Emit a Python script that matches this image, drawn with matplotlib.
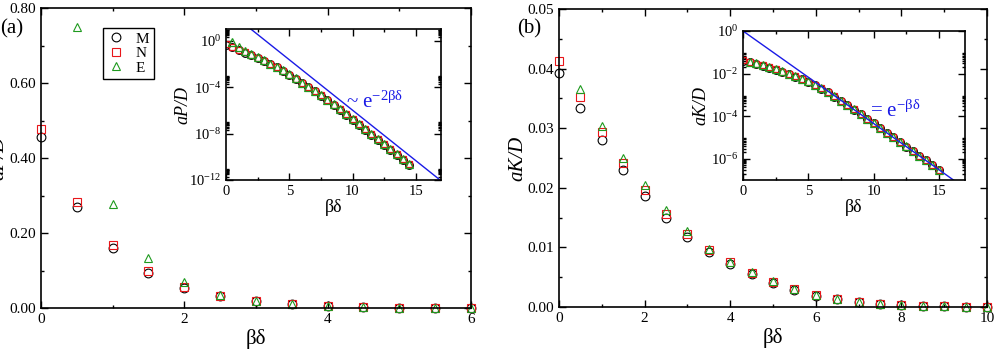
import numpy as np
import matplotlib
matplotlib.use('Agg')
import matplotlib.pyplot as plt
from matplotlib.ticker import MultipleLocator, FixedLocator, FormatStrFormatter, LogFormatterSciNotation

nan = np.nan

# beta*delta grid for P (panel a) and K (panel b)
x_P = np.arange(0, 15, 0.5)      # 0 .. 14.5
x_K = np.arange(0, 15.5, 0.5)    # 0 .. 15

# aP/D
P_M = [0.455, 0.270, 0.160, 0.093, 0.054, 0.031, 0.0175, 0.0095, 5.0e-3, 2.4e-3,
       1.1e-3, 5.0e-4, 2.2e-4, 9.5e-5, 4.2e-5, 1.8e-5, 7.5e-6, 3.0e-6, 1.15e-6, 4.3e-7,
       1.6e-7, 6.0e-8, 2.2e-8, 8.2e-9, 3.0e-9, 1.1e-9, 4.1e-10, 1.5e-10, 5.6e-11, 2.1e-11]
P_N = [0.478, 0.284, 0.168, 0.099, 0.057, 0.033, 0.0185, 0.0101, 5.3e-3, 2.6e-3,
       1.2e-3, 5.4e-4, 2.35e-4, 1.0e-4, 4.4e-5, 1.9e-5, 7.9e-6, 3.15e-6, 1.2e-6, 4.5e-7,
       1.7e-7, 6.3e-8, 2.3e-8, 8.6e-9, 3.15e-9, 1.15e-9, 4.3e-10, 1.6e-10, 5.9e-11, 2.2e-11]
P_E = [nan, 0.75, 0.277, 0.133, 0.069, 0.036, 0.0195, 0.0105, 5.5e-3, 2.7e-3,
       1.25e-3, 5.6e-4, 2.45e-4, 1.05e-4, 4.6e-5, 2.0e-5, 8.2e-6, 3.3e-6, 1.25e-6, 4.7e-7,
       1.75e-7, 6.5e-8, 2.4e-8, 8.9e-9, 3.25e-9, 1.2e-9, 4.4e-10, 1.65e-10, 6.1e-11, 2.3e-11]

# aK/D
K_M = [0.0392, 0.0334, 0.0280, 0.0230, 0.0187, 0.0150, 0.0117, 0.0092, 0.0072, 0.0055,
       0.0041, 0.0029, 0.0019, 0.0013, 8.2e-4, 5.2e-4, 3.3e-4, 2.05e-4, 1.24e-4, 7.5e-5,
       4.55e-5, 2.75e-5, 1.67e-5, 1.01e-5, 6.1e-6, 3.7e-6, 2.25e-6, 1.37e-6, 8.3e-7, 5.0e-7, 3.05e-7]
K_N = [0.0413, 0.0352, 0.0294, 0.0242, 0.0196, 0.0156, 0.0122, 0.0095, 0.0075, 0.0057,
       0.0042, 0.0030, 0.0020, 0.00132, 8.4e-4, 5.3e-4, 3.35e-4, 2.08e-4, 1.26e-4, 7.6e-5,
       4.6e-5, 2.78e-5, 1.69e-5, 1.02e-5, 6.2e-6, 3.75e-6, 2.28e-6, 1.38e-6, 8.4e-7, 5.1e-7, 3.1e-7]
K_E = [nan, 0.0366, 0.0304, 0.0250, 0.0204, 0.0162, 0.0128, 0.0098, 0.0076, 0.0058,
       0.0043, 0.0030, 0.0020, 0.00133, 8.5e-4, 5.4e-4, 3.4e-4, 2.1e-4, 1.27e-4, 7.7e-5,
       4.65e-5, 2.8e-5, 1.7e-5, 1.03e-5, 6.25e-6, 3.8e-6, 2.3e-6, 1.39e-6, 8.45e-7, 5.1e-7, 3.1e-7]

labels = ['M', 'N', 'E']

plt.rcParams['font.family'] = ['Liberation Serif', 'DejaVu Serif']
plt.rcParams['mathtext.fontset'] = 'stix'
plt.rcParams['mathtext.default'] = 'regular'

RED = '#e8161a'
GREEN = '#1f9a1f'
BLUE = '#1a1ae6'

fig = plt.figure(figsize=(9.94, 3.5), dpi=100)
axA = fig.add_axes([0.0412, 0.12, 0.4326, 0.857])
axB = fig.add_axes([0.5624, 0.1229, 0.4306, 0.851])
inA = fig.add_axes([0.2274, 0.4857, 0.2163, 0.4314])
inB = fig.add_axes([0.7475, 0.4857, 0.2233, 0.4257])


def style(ax, fs):
    for s in ax.spines.values():
        s.set_linewidth(1.2)
    ax.tick_params(which='both', direction='in', top=True, right=True, labelsize=fs, width=1.0)
    ax.tick_params(which='major', length=5)
    ax.tick_params(which='minor', length=2.5)


def series(ax, x, ys, ms, mew, clip):
    mk = ['o', 's', '^']
    cols = ['black', RED, GREEN]
    sizes = [ms, ms * 0.9, ms]
    for y, m, c, sz, lab in zip(ys, mk, cols, sizes, labels):
        ax.plot(x, y, ls='none', marker=m, ms=sz, mfc='none', mec=c, mew=mew,
                label=lab, clip_on=clip)


# ---- panel (a) main
sel = x_P <= 6
series(axA, x_P[sel], [np.array(P_M)[sel], np.array(P_N)[sel], np.array(P_E)[sel]], 6.3, 0.8, False)
axA.set_xlim(0, 6)
axA.set_ylim(0, 0.8)
axA.xaxis.set_major_locator(MultipleLocator(2))
axA.xaxis.set_minor_locator(MultipleLocator(1))
axA.yaxis.set_major_locator(MultipleLocator(0.2))
axA.yaxis.set_minor_locator(MultipleLocator(0.1))
axA.yaxis.set_major_formatter(FormatStrFormatter('%.2f'))
style(axA, 11)
axA.set_xlabel('βδ', fontsize=15, labelpad=2)
axA.set_ylabel('aP/D', fontsize=15, style='italic')
axA.yaxis.set_label_coords(-0.075, 0.5)
leg = axA.legend(loc='upper left', bbox_to_anchor=(0.145, 0.935), fontsize=11,
                 fancybox=False, edgecolor='black', framealpha=1, handlelength=1.0,
                 handletextpad=0.8, borderpad=0.3, labelspacing=0.05, borderaxespad=0)
leg.get_frame().set_linewidth(1.0)

# ---- panel (b) main
sel = x_K <= 10
series(axB, x_K[sel], [np.array(K_M)[sel], np.array(K_N)[sel], np.array(K_E)[sel]], 6.3, 0.8, False)
axB.set_xlim(0, 10)
axB.set_ylim(0, 0.05)
axB.xaxis.set_major_locator(MultipleLocator(2))
axB.xaxis.set_minor_locator(MultipleLocator(1))
axB.yaxis.set_major_locator(MultipleLocator(0.01))
axB.yaxis.set_minor_locator(MultipleLocator(0.005))
axB.yaxis.set_major_formatter(FormatStrFormatter('%.2f'))
style(axB, 11)
axB.set_xlabel('βδ', fontsize=15, labelpad=2)
axB.set_ylabel('aK/D', fontsize=15, style='italic')
axB.yaxis.set_label_coords(-0.075, 0.5)

fig.text(0.0, 0.905, '(a)', fontsize=15)
fig.text(0.52, 0.905, '(b)', fontsize=15)

# ---- inset (a)
series(inA, x_P, [P_M, P_N, P_E], 5.5, 0.9, True)
xl = np.array([0, 17])
inA.plot(xl, 500 * np.exp(-2 * xl), color=BLUE, lw=1.0)
inA.set_yscale('log')
inA.set_xlim(0, 17)
inA.set_ylim(1e-12, 10)
inA.xaxis.set_major_locator(MultipleLocator(5))
inA.xaxis.set_minor_locator(MultipleLocator(2.5))
inA.yaxis.set_major_locator(FixedLocator([1e-12, 1e-8, 1e-4, 1e0]))
inA.yaxis.set_minor_locator(FixedLocator([m * 10.0 ** k for k in (-12, -8, -4, 0) for m in range(2, 10)]))
inA.yaxis.set_major_formatter(LogFormatterSciNotation())
inA.yaxis.set_minor_formatter(plt.NullFormatter())
style(inA, 10.5)
inA.set_xlabel('βδ', fontsize=13, labelpad=1)
inA.set_ylabel('aP/D', fontsize=13, style='italic')
inA.yaxis.set_label_coords(-0.16, 0.5)
inA.text(0.56, 0.48, '~ e$^{-2βδ}$', transform=inA.transAxes, color=BLUE, fontsize=15)

# ---- inset (b)
series(inB, x_K, [K_M, K_N, K_E], 5.5, 0.9, True)
inB.plot(xl, np.exp(-xl), color=BLUE, lw=1.0)
inB.set_yscale('log')
inB.set_xlim(0, 17)
inB.set_ylim(1e-7, 1)
inB.xaxis.set_major_locator(MultipleLocator(5))
inB.xaxis.set_minor_locator(MultipleLocator(2.5))
inB.yaxis.set_major_locator(FixedLocator([1e-6, 1e-4, 1e-2, 1e0]))
inB.yaxis.set_minor_locator(FixedLocator([m * 10.0 ** k for k in (-7, -6, -4, -2) for m in range(2, 10)]))
inB.yaxis.set_major_formatter(LogFormatterSciNotation())
inB.yaxis.set_minor_formatter(plt.NullFormatter())
style(inB, 10.5)
inB.set_xlabel('βδ', fontsize=13, labelpad=1)
inB.set_ylabel('aK/D', fontsize=13, style='italic')
inB.yaxis.set_label_coords(-0.15, 0.5)
inB.text(0.57, 0.42, '= e$^{-βδ}$', transform=inB.transAxes, color=BLUE, fontsize=15)

fig.savefig('out.png', dpi=100)
